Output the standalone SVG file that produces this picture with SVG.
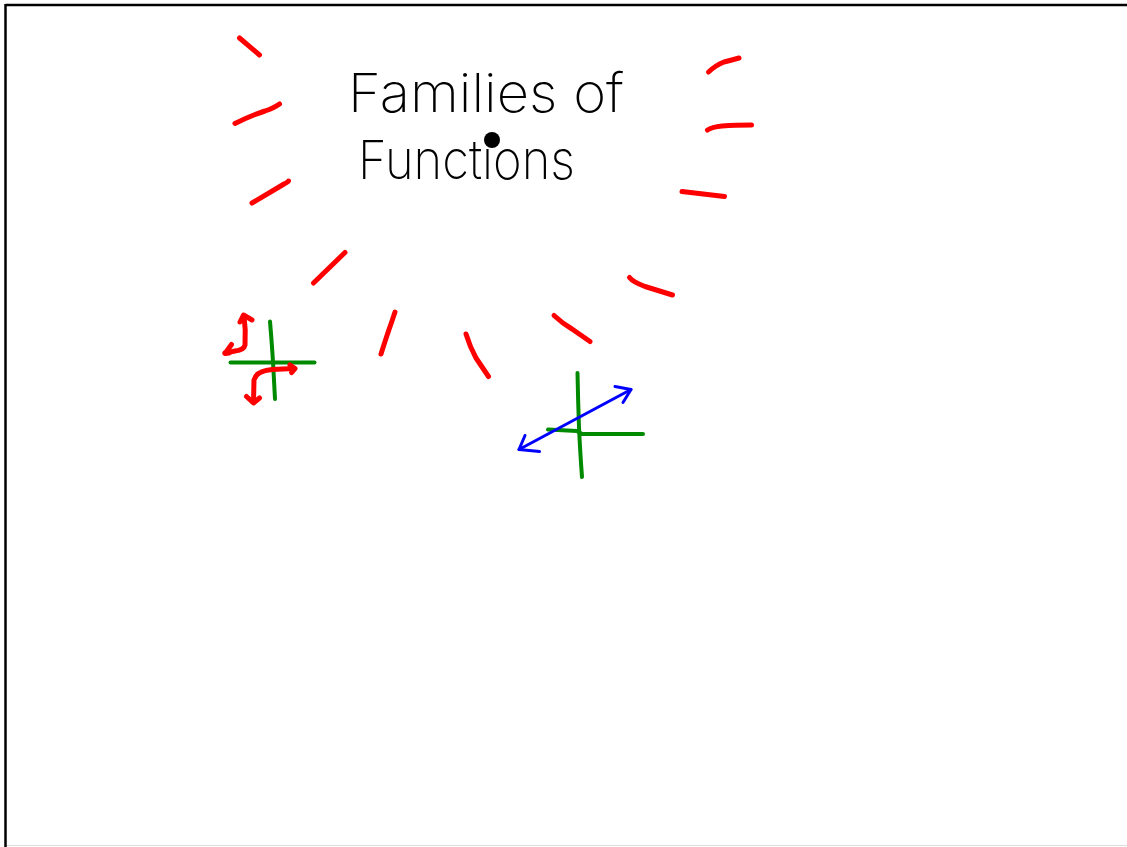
<svg xmlns="http://www.w3.org/2000/svg" width="1127" height="847" viewBox="0 0 1127 847">
<style>
.red{fill:none;stroke:#ff0000;stroke-width:5;stroke-linecap:round;stroke-linejoin:round}
.green{fill:none;stroke:#008a00;stroke-width:4;stroke-linecap:round;stroke-linejoin:round}
.blue{fill:none;stroke:#0000ff;stroke-width:3;stroke-linecap:round;stroke-linejoin:round}
.title{font-family:Inter,"Open Sans","Liberation Sans",sans-serif;font-weight:200;fill:#000}
</style>
<rect x="0" y="0" width="1127" height="847" fill="#ffffff"/>
<g id="frame">
<line x1="5.5" y1="5" x2="1127" y2="5" stroke="#000" stroke-width="2.5"/>
<line x1="5.5" y1="4" x2="5.5" y2="847" stroke="#000" stroke-width="2.5"/>
<line x1="7" y1="845.5" x2="1127" y2="845.5" stroke="#dddddd" stroke-width="1"/>
</g>
<g id="title">
<text class="title" x="348" y="112" font-size="54" textLength="276" lengthAdjust="spacingAndGlyphs">Families of</text>
<text class="title" x="358" y="179" font-size="54" textLength="217" lengthAdjust="spacingAndGlyphs">Functions</text>
<circle cx="492" cy="140" r="8" fill="#000"/>
</g>
<g id="rays">
<path class="red" d="M239.5,38 L259.5,55"/>
<path class="red" d="M235,123.5 Q252,115 265,111 Q274,108 279.5,104"/>
<path class="red" d="M252,203 L284,184 Q288,182 288.5,181"/>
<path class="red" d="M708.5,72 Q716,65 724,62 Q732,60 739,58"/>
<path class="red" d="M707.5,130 Q712,127 722,126 Q735,125 751.5,125"/>
<path class="red" d="M682,191.5 L724.5,196.5"/>
<path class="red" d="M313.5,283 L345,252.5"/>
<path class="red" d="M381,354 Q387,335 392,321 L395,312"/>
<path class="red" d="M466,334 Q470,347 476,358 L488.5,376.5"/>
<path class="red" d="M554,315.5 Q562,323 572,329 L590,341.5"/>
<path class="red" d="M629.5,277.5 Q633,282 645,286.5 L672.5,295"/>
</g>
<g id="graph-left">
<path class="green" d="M230.5,362.5 L314.5,362.5"/>
<path class="green" d="M270,321.5 Q272,345 273,362 L275,399"/>
<path class="red" d="M244,316 Q246,330 245,345 Q244,350 235,351 L225,353"/>
<path class="red" d="M240,322 L243.5,315 L252,320"/>
<path class="red" d="M231.5,344.5 L225,353.5 L229,353"/>
<path class="red" d="M294,368.5 L272,369.5 Q256,371 254,380 L253.5,401"/>
<path class="red" d="M290,365 L295,368.5 L291.5,372.5"/>
<path class="red" d="M246.5,396.5 L253.5,403 L259.5,398"/>
</g>
<g id="graph-right">
<path class="green" d="M577.5,373 Q578,400 579,427 Q580,450 582,477"/>
<path class="green" d="M548,429.5 L577,431 L582,434 L643,434"/>
<path class="blue" d="M519,449.5 L631,389.5"/>
<path class="blue" d="M525,435.5 L519,449.5 L539.5,451.5"/>
<path class="blue" d="M615,386.5 L631,389.5 L623,402.5"/>
</g>
</svg>
